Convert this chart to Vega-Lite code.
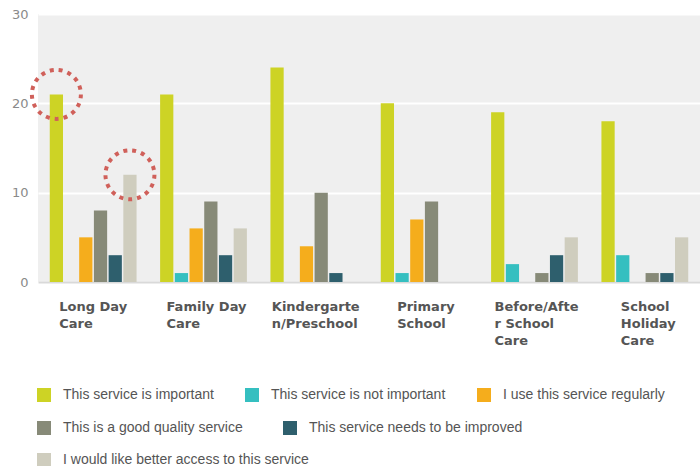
{
  "$schema": "https://vega.github.io/schema/vega-lite/v6.json",
  "width": 662,
  "height": 268,
  "autosize": "none",
  "padding": {"left": 38, "top": 14, "right": 0, "bottom": 184},
  "background": "white",
  "view": {"fill": "#efefef", "stroke": null},
  "config": {"view": {"fill": "#efefef", "stroke": null}, "font": "Liberation Sans",
    "legend": {"title": null, "orient": "none", "direction": "horizontal", "symbolType": "square", "symbolSize": 196, "symbolStrokeWidth": 0, "symbolOpacity": 1, "labelFontSize": 14, "labelColor": "#555555", "labelFont": "Liberation Sans", "labelOffset": 12, "padding": 0, "labelLimit": 400}},
  "data": {"values": [
    {"category": "Long Day Care", "series": "This service is important", "value": 21, "circled": true},
    {"category": "Long Day Care", "series": "This service is not important", "value": 0, "circled": false},
    {"category": "Long Day Care", "series": "I use this service regularly", "value": 5, "circled": false},
    {"category": "Long Day Care", "series": "This is a good quality service", "value": 8, "circled": false},
    {"category": "Long Day Care", "series": "This service needs to be improved", "value": 3, "circled": false},
    {"category": "Long Day Care", "series": "I would like better access to this service", "value": 12, "circled": true},
    {"category": "Family Day Care", "series": "This service is important", "value": 21, "circled": false},
    {"category": "Family Day Care", "series": "This service is not important", "value": 1, "circled": false},
    {"category": "Family Day Care", "series": "I use this service regularly", "value": 6, "circled": false},
    {"category": "Family Day Care", "series": "This is a good quality service", "value": 9, "circled": false},
    {"category": "Family Day Care", "series": "This service needs to be improved", "value": 3, "circled": false},
    {"category": "Family Day Care", "series": "I would like better access to this service", "value": 6, "circled": false},
    {"category": "Kindergarten/Preschool", "series": "This service is important", "value": 24, "circled": false},
    {"category": "Kindergarten/Preschool", "series": "This service is not important", "value": 0, "circled": false},
    {"category": "Kindergarten/Preschool", "series": "I use this service regularly", "value": 4, "circled": false},
    {"category": "Kindergarten/Preschool", "series": "This is a good quality service", "value": 10, "circled": false},
    {"category": "Kindergarten/Preschool", "series": "This service needs to be improved", "value": 1, "circled": false},
    {"category": "Kindergarten/Preschool", "series": "I would like better access to this service", "value": 0, "circled": false},
    {"category": "Primary School", "series": "This service is important", "value": 20, "circled": false},
    {"category": "Primary School", "series": "This service is not important", "value": 1, "circled": false},
    {"category": "Primary School", "series": "I use this service regularly", "value": 7, "circled": false},
    {"category": "Primary School", "series": "This is a good quality service", "value": 9, "circled": false},
    {"category": "Primary School", "series": "This service needs to be improved", "value": 0, "circled": false},
    {"category": "Primary School", "series": "I would like better access to this service", "value": 0, "circled": false},
    {"category": "Before/After School Care", "series": "This service is important", "value": 19, "circled": false},
    {"category": "Before/After School Care", "series": "This service is not important", "value": 2, "circled": false},
    {"category": "Before/After School Care", "series": "I use this service regularly", "value": 0, "circled": false},
    {"category": "Before/After School Care", "series": "This is a good quality service", "value": 1, "circled": false},
    {"category": "Before/After School Care", "series": "This service needs to be improved", "value": 3, "circled": false},
    {"category": "Before/After School Care", "series": "I would like better access to this service", "value": 5, "circled": false},
    {"category": "School Holiday Care", "series": "This service is important", "value": 18, "circled": false},
    {"category": "School Holiday Care", "series": "This service is not important", "value": 3, "circled": false},
    {"category": "School Holiday Care", "series": "I use this service regularly", "value": 0, "circled": false},
    {"category": "School Holiday Care", "series": "This is a good quality service", "value": 1, "circled": false},
    {"category": "School Holiday Care", "series": "This service needs to be improved", "value": 1, "circled": false},
    {"category": "School Holiday Care", "series": "I would like better access to this service", "value": 5, "circled": false}
  ]},
  "layer": [
    {
      "mark": {"type": "bar"},
      "encoding": {
        "x": {
          "field": "category", "type": "nominal",
          "sort": ["Long Day Care", "Family Day Care", "Kindergarten/Preschool", "Primary School", "Before/After School Care", "School Holiday Care"],
          "scale": {"paddingInner": 0.2, "paddingOuter": 0.1},
          "axis": {
            "title": null, "labelAngle": 0, "ticks": false,
            "domainColor": "#d9d9d9", "domainWidth": 2,
            "labelFont": "DejaVu Sans", "labelFontWeight": "bold", "labelFontSize": 13,
            "labelColor": "#555555", "labelPadding": 18, "labelBaseline": "top",
            "labelLineHeight": 17, "labelAlign": "left", "labelLimit": 300,
            "labelOverlap": false, "labelBound": false,
            "labelExpr": "datum.label == 'Long Day Care' ? ['Long Day','Care'] : datum.label == 'Family Day Care' ? ['Family Day','Care'] : datum.label == 'Kindergarten/Preschool' ? ['Kindergarte','n/Preschool'] : datum.label == 'Primary School' ? ['Primary','School'] : datum.label == 'Before/After School Care' ? ['Before/Afte','r School','Care'] : ['School','Holiday','Care']",
            "labelOffset": {"expr": "datum.value == 'Long Day Care' ? -34 : datum.value == 'Family Day Care' ? -37 : datum.value == 'Kindergarten/Preschool' ? -42 : datum.value == 'Primary School' ? -27 : datum.value == 'Before/After School Care' ? -40 : -24"}
          }
        },
        "xOffset": {
          "field": "series", "type": "nominal",
          "sort": ["This service is important", "This service is not important", "I use this service regularly", "This is a good quality service", "This service needs to be improved", "I would like better access to this service"],
          "scale": {"paddingInner": 0.1, "paddingOuter": 0.05}
        },
        "y": {
          "field": "value", "type": "quantitative",
          "scale": {"domain": [0, 30]},
          "axis": {
            "title": null, "values": [0, 10, 20, 30], "ticks": false, "domain": false,
            "gridColor": "white", "gridWidth": 2,
            "labelColor": "#8a8a8a", "labelFontSize": 13, "labelFont": "DejaVu Sans", "labelPadding": 10
          }
        },
        "color": {
          "field": "series", "type": "nominal",
          "scale": {
            "domain": ["This service is important", "This service is not important", "I use this service regularly", "This is a good quality service", "This service needs to be improved", "I would like better access to this service"],
            "range": ["#cdd325", "#35bfc0", "#f5ad1c", "#878a78", "#2e5f6d", "#cfcdbe"]
          },
          "legend": {
            "values": ["This service is important", "This service is not important", "I use this service regularly"],
            "legendX": -1, "legendY": 374, "columnPadding": 31
          }
        }
      }
    },
    {
      "transform": [{"filter": "datum.series == 'This is a good quality service' || datum.series == 'This service needs to be improved'"}],
      "mark": {"type": "square", "opacity": 0},
      "encoding": {
        "fill": {
          "field": "series", "type": "nominal",
          "scale": {
            "domain": ["This is a good quality service", "This service needs to be improved"],
            "range": ["#878a78", "#2e5f6d"]
          },
          "legend": {"legendX": -1, "legendY": 407, "columnPadding": 40}
        }
      }
    },
    {
      "transform": [{"filter": "datum.series == 'I would like better access to this service'"}],
      "mark": {"type": "square", "opacity": 0, "fill": "#cfcdbe"},
      "encoding": {
        "stroke": {
          "field": "series", "type": "nominal",
          "scale": {
            "domain": ["I would like better access to this service"],
            "range": ["#cfcdbe"]
          },
          "legend": {"legendX": -1, "legendY": 439, "symbolFillColor": "#cfcdbe"}
        }
      }
    },
    {
      "transform": [{"filter": "datum.circled"}],
      "mark": {"type": "point", "shape": "circle", "size": 2400, "filled": false, "stroke": "#d0605a", "strokeWidth": 4, "strokeDash": [4, 5], "opacity": 1},
      "encoding": {
        "x": {"field": "category", "type": "nominal", "sort": ["Long Day Care", "Family Day Care", "Kindergarten/Preschool", "Primary School", "Before/After School Care", "School Holiday Care"]},
        "xOffset": {"field": "series", "type": "nominal", "sort": ["This service is important", "This service is not important", "I use this service regularly", "This is a good quality service", "This service needs to be improved", "I would like better access to this service"]},
        "y": {"field": "value", "type": "quantitative"}
      }
    }
  ]
}
